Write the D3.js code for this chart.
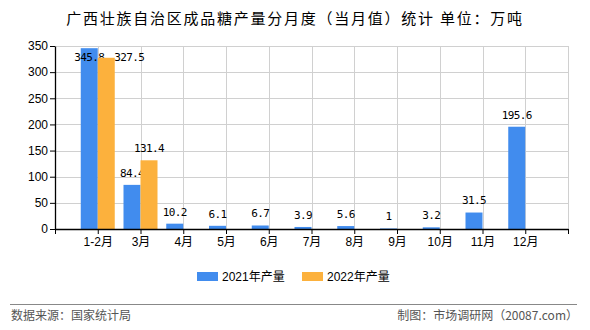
<!DOCTYPE html>
<html>
<head>
<meta charset="utf-8">
<script src="https://cdn.jsdelivr.net/npm/d3@7"></script>
<style>
  body { margin: 0; background: #fff; }
  text { font-family: "Liberation Sans", Arial, sans-serif; }
</style>
</head>
<body>
<div id="my_dataviz"></div>
<script>
// data
var months = ["1-2月", "3月", "4月", "5月", "6月", "7月", "8月", "9月", "10月", "11月", "12月"];
var values2021 = [345.8, 84.4, 10.2, 6.1, 6.7, 3.9, 5.6, 1, 3.2, 31.5, 195.6];
var values2022 = [327.5, 131.4, null, null, null, null, null, null, null, null, null];
var yTicks = [0, 50, 100, 150, 200, 250, 300, 350];
var seriesNames = ["2021年产量", "2022年产量"];
var colors = ["#418cee", "#fcb13d"];

var W = 590, H = 330;
var margin = {top: 46, right: 22, bottom: 101, left: 55},
    width = W - margin.left - margin.right,
    height = H - margin.top - margin.bottom;

var root = d3.select("#my_dataviz")
  .append("svg")
    .attr("width", W)
    .attr("height", H);

// title
root.append("text")
  .attr("x", W / 2)
  .attr("y", 24)
  .attr("text-anchor", "middle")
  .style("font-family", "'Noto Sans CJK SC', sans-serif")
  .style("font-size", "15px")
  .style("letter-spacing", "1.75px")
  .text("广西壮族自治区成品糖产量分月度（当月值）统计 单位：万吨");

var svg = root.append("g")
  .attr("transform", "translate(" + margin.left + "," + margin.top + ")");

// x: 12 slots, categories sit on the inner boundaries
var x = d3.scaleLinear()
  .domain([0, months.length + 1])
  .range([0, width]);

var y = d3.scaleLinear()
  .domain([0, 350])
  .range([height, 0]);

// grid
svg.append("g").selectAll("line")
  .data(yTicks.slice(1))
  .enter().append("line")
    .attr("x1", 0).attr("x2", width)
    .attr("y1", function(d) { return Math.round(y(d)) + 0.5; })
    .attr("y2", function(d) { return Math.round(y(d)) + 0.5; })
    .style("stroke", "#d0d0d0");

svg.append("g").selectAll("line")
  .data(d3.range(1, months.length + 2))
  .enter().append("line")
    .attr("x1", function(d) { return Math.round(x(d)) + 0.5; })
    .attr("x2", function(d) { return Math.round(x(d)) + 0.5; })
    .attr("y1", 0).attr("y2", height)
    .style("stroke", "#d0d0d0");

var barW = 17;
var charW = 6;

// bars + value labels
months.forEach(function(m, i) {
  var lastRight = -Infinity, lastY = null;
  [values2021[i], values2022[i]].forEach(function(v, s) {
    if (v == null) return;
    var cx = x(i + 1);
    var bx = s == 0 ? cx - barW : cx;
    svg.append("rect")
      .attr("x", bx)
      .attr("y", y(v))
      .attr("width", barW)
      .attr("height", height - y(v))
      .style("fill", colors[s]);

    var txt = String(v);
    var tw = txt.length * charW;
    var ly = Math.max(y(v) - 12, y(350) + 11);
    var lx = bx + barW / 2;
    // push the label right if it would sit on top of its neighbour
    if (lastY != null && Math.abs(ly - lastY) < 12 && lx - tw / 2 < lastRight + 10) {
      lx = lastRight + 10 + tw / 2;
    }
    lastRight = lx + tw / 2;
    lastY = ly;
    svg.append("text")
      .attr("x", lx)
      .attr("y", ly)
      .attr("dy", "0.35em")
      .attr("text-anchor", "middle")
      .style("font-family", "'DejaVu Sans Mono', monospace")
      .style("font-size", "11px")
      .style("letter-spacing", "-0.6px")
      .text(txt);
  });
});

// axes
var yAxis = svg.append("g")
  .call(d3.axisLeft(y).tickValues(yTicks).tickSize(5).tickSizeOuter(0));
var xAxis = svg.append("g")
  .attr("transform", "translate(0," + height + ")")
  .call(d3.axisBottom(x)
    .tickValues(d3.range(0, months.length + 2))
    .tickSize(5).tickSizeOuter(0)
    .tickFormat(function(d) { return (d >= 1 && d <= months.length) ? months[d - 1] : ""; }));

[yAxis, xAxis].forEach(function(a) {
  a.select(".domain").style("stroke", "#000").style("stroke-width", 1.3);
  a.selectAll(".tick line").style("stroke", "#000");
  a.selectAll(".tick text")
    .style("font-size", "12px")
    .style("font-family", "'Liberation Sans', 'Noto Sans CJK SC', sans-serif")
    .style("fill", "#000");
});
xAxis.selectAll(".tick text").attr("y", 8);
yAxis.selectAll(".tick text").attr("x", -7);

// legend
var legendX = [197, 302];
seriesNames.forEach(function(n, i) {
  root.append("rect")
    .attr("x", legendX[i]).attr("y", 272)
    .attr("width", 21).attr("height", 9)
    .style("fill", colors[i]);
  root.append("text")
    .attr("x", legendX[i] + 25).attr("y", 277)
    .attr("dy", "0.35em")
    .style("font-family", "'Liberation Sans', 'Noto Sans CJK SC', sans-serif")
    .style("font-size", "12px")
    .text(n);
});

// footer
root.append("line")
  .attr("x1", 10).attr("x2", 577)
  .attr("y1", 304.5).attr("y2", 304.5)
  .style("stroke", "#888").style("stroke-width", 1.2);

root.append("text")
  .attr("x", 11).attr("y", 316)
  .attr("dy", "0.35em")
  .style("font-family", "'Noto Sans CJK SC', sans-serif")
  .style("font-size", "12px")
  .style("fill", "#555")
  .text("数据来源：国家统计局");

root.append("text")
  .attr("x", 578).attr("y", 316)
  .attr("dy", "0.35em")
  .attr("text-anchor", "end")
  .style("font-family", "'Noto Sans CJK SC', sans-serif")
  .style("font-size", "12px")
  .style("fill", "#555")
  .text("制图：市场调研网（20087.com）");
</script>
</body>
</html>
